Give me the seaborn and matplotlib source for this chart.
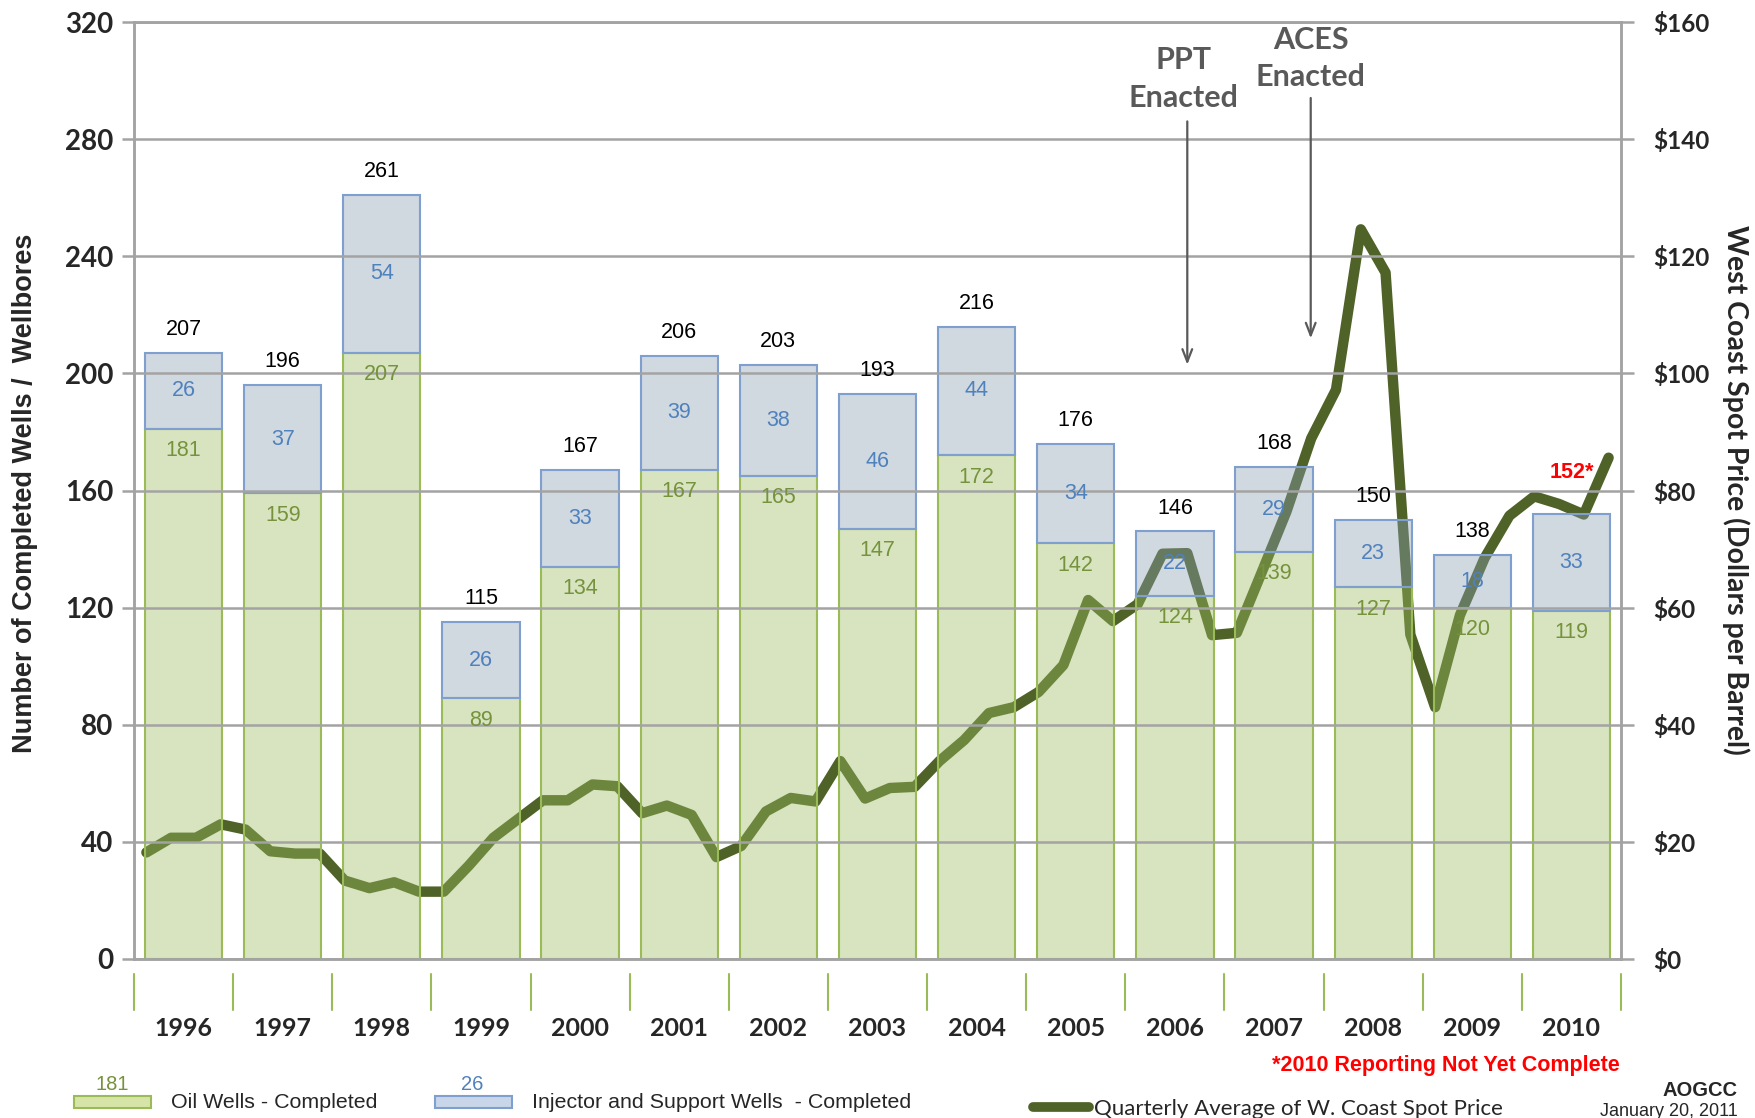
import numpy as np
import pandas as pd
import matplotlib
matplotlib.use("Agg")
import matplotlib.pyplot as plt
import matplotlib.transforms as mtransforms
from matplotlib.patches import Rectangle
from matplotlib.lines import Line2D
from matplotlib.colors import to_rgba
import seaborn as sns

# ---------------- data ----------------
years = [str(y) for y in range(1996, 2011)]
oil_wells = [181, 159, 207, 89, 134, 167, 165, 147, 172, 142, 124, 139, 127, 120, 119]
injector_wells = [26, 37, 54, 26, 33, 39, 38, 46, 44, 34, 22, 29, 23, 18, 33]
total_labels = ["207", "196", "261", "115", "167", "206", "203", "193", "216",
                "176", "146", "168", "150", "138", "152*"]
# quarterly average West Coast spot price, 1996Q1 .. 2010Q4
price_quarterly = [
    18.2, 20.7, 20.7, 23.0,
    22.1, 18.4, 18.0, 18.0,
    13.4, 12.1, 13.1, 11.5,
    11.5, 15.9, 20.7, 23.9,
    27.1, 27.1, 29.8, 29.5,
    24.9, 26.2, 24.6, 17.4,
    19.3, 25.2, 27.5, 26.9,
    33.8, 27.4, 29.2, 29.4,
    33.8, 37.4, 42.0, 43.0,
    45.6, 50.2, 61.3, 57.7,
    60.6, 69.2, 69.3, 55.3,
    55.7, 66.0, 76.4, 88.9,
    97.2, 124.6, 117.2, 55.4,
    43.0, 58.7, 68.5, 75.7,
    79.0, 77.7, 75.9, 85.6,
]
left_ticks = list(range(0, 321, 40))
right_ticks = list(range(0, 161, 20))

# ---------------- style ----------------
sns.set_style("white")
plt.rcParams['font.family'] = ['Liberation Sans', 'DejaVu Sans']
CAL = ['Lato', 'DejaVu Sans']

BG = '#FEFED8'
OIL_FILL = to_rgba('#9CBD60', 0.4)
OIL_EDGE = '#9BBB59'
INJ_FILL = to_rgba('#8B9FB2', 0.4)
INJ_EDGE = '#7F9FCF'
GRID = '#A3A3A3'
LINE = '#4F6228'
GREEN_TXT = '#76923C'
BLUE_TXT = '#4F81BD'
ARROW = '#595959'

df = pd.DataFrame({
    'year': years,
    'oil': oil_wells,
    'injector': injector_wells,
})

fig = plt.figure(figsize=(17.56, 11.18), dpi=100)
ax = fig.add_axes([0.07631, 0.14222, 0.84681, 0.8381])

# price line on a twin axis placed underneath the (semi-transparent) bars
ax2 = ax.twinx()
ax2.set_zorder(ax.get_zorder() - 1)
ax.patch.set_visible(False)
ax2.set_facecolor(BG)
xq = [i - 0.5 + (q + 0.5) / 4 for i in range(len(years)) for q in range(4)]
sns.lineplot(x=xq, y=price_quarterly, ax=ax2, color=LINE, lw=7.5)
ax2.set_ylim(0, 160)
ax2.set_xlim(-0.5, len(years) - 0.5)
ax2.set_yticks(right_ticks)
ax2.set_yticklabels([f'${t}' for t in right_ticks])
ax2.tick_params(axis='y', length=9, width=1.8, color=GRID, pad=14)
for lab in ax2.get_yticklabels():
    lab.set_fontfamily(CAL)
    lab.set_fontweight('bold')
    lab.set_fontsize(17.5)
for s in ax2.spines.values():
    s.set_color(GRID)
    s.set_linewidth(1.8)
ax2.set_ylabel('')

# stacked bars: oil at the bottom, injector stacked on top
n0 = len(ax.patches)
sns.barplot(data=df, x='year', y='oil', color='#9CBD60', edgecolor=OIL_EDGE,
            linewidth=1.5, width=0.78, saturation=1, ax=ax)
for p in ax.patches[n0:]:
    p.set_facecolor(OIL_FILL)
n1 = len(ax.patches)
sns.barplot(data=df, x='year', y='injector', color='#8B9FB2', edgecolor=INJ_EDGE,
            linewidth=1.5, width=0.78, saturation=1, ax=ax)
for p, base in zip(ax.patches[n1:], oil_wells):
    p.set_facecolor(INJ_FILL)
    p.set_y(base)

ax.set_xlim(-0.5, len(years) - 0.5)
ax.set_ylim(0, 320)
ax.set_yticks(left_ticks)
ax.set_xlabel('')
ax.set_ylabel('')
ax.yaxis.grid(True, color=GRID, lw=1.8)
ax.set_axisbelow(False)

for s in ax.spines.values():
    s.set_color(GRID)
    s.set_linewidth(1.8)

ax.set_xticks([])
ax.set_xticks(np.arange(-0.5, len(years) - 0.5 + 0.01, 0.25), minor=True)
ax.tick_params(axis='x', which='minor', length=6, width=1.2, color=GRID, direction='out')
ax.tick_params(axis='y', length=9, width=1.8, color=GRID, pad=6)
for lab in ax.get_yticklabels():
    lab.set_fontfamily(CAL)
    lab.set_fontweight('bold')
    lab.set_fontsize(20)

# bar value labels
for i, (o, inj, tl) in enumerate(zip(oil_wells, injector_wells, total_labels)):
    tot = o + inj
    ax.text(i, o - 7.5, str(o), ha='center', va='center', color=GREEN_TXT, fontsize=15.5)
    ax.text(i, o + inj / 2, str(inj), ha='center', va='center', color=BLUE_TXT, fontsize=15.5)
    if tl.endswith('*'):
        ax.text(i, tot + 14, tl, ha='center', va='center', color='#FF0000',
                fontsize=15.5, fontweight='bold')
    else:
        ax.text(i, tot + 8, tl, ha='center', va='center', color='black', fontsize=15.5)

# year separators and labels below the axis
trans = mtransforms.blended_transform_factory(ax.transData, ax.transAxes)
for b in np.arange(-0.5, len(years), 1.0):
    ax.plot([b, b], [-0.016, -0.054], transform=trans, clip_on=False,
            color='#9BBB59', lw=1.5)
for i, y in enumerate(years):
    ax.text(i, -0.074, y, transform=trans, ha='center', va='center',
            fontfamily=CAL, fontweight='bold', fontsize=18)

# annotations
ax.annotate('', xy=(10.125, 202), xytext=(10.125, 287),
            arrowprops=dict(arrowstyle='->,head_length=0.9,head_width=0.35',
                            color=ARROW, lw=1.6))
ax.annotate('', xy=(11.37, 211), xytext=(11.37, 295),
            arrowprops=dict(arrowstyle='->,head_length=0.9,head_width=0.35',
                            color=ARROW, lw=1.6))
ax.text(10.09, 300.5, 'PPT\nEnacted', ha='center', va='center', color=ARROW,
        fontfamily=CAL, fontweight='bold', fontsize=22, linespacing=1.45)
ax.text(11.37, 307.5, 'ACES\nEnacted', ha='center', va='center', color=ARROW,
        fontfamily=CAL, fontweight='bold', fontsize=22, linespacing=1.4)

# axis titles
fig.text(0.0142, 0.559, 'Number of Completed Wells /  Wellbores', rotation=90,
         ha='center', va='center', fontweight='bold', fontsize=19.5)
fig.text(0.9885, 0.5617, 'West Coast Spot Price (Dollars per Barrel)', rotation=270,
         ha='center', va='center', fontfamily=CAL, fontweight='bold', fontsize=20.5)

# bottom notes and legend
W, H = 1756.0, 1118.0
fig.text(1620 / W, 1 - 1065 / H, '*2010 Reporting Not Yet Complete', ha='right', va='center',
         color='#FF0000', fontweight='bold', fontsize=15.5)

fig.add_artist(Rectangle((74 / W, 1 - 1108 / H), 77 / W, 12 / H, transform=fig.transFigure,
                         facecolor='#D7E4A8', edgecolor='#9BBB59', lw=1.5))
fig.text(112 / W, 1 - 1085 / H, '181', ha='center', va='center', color=GREEN_TXT, fontsize=14.5)
fig.text(171 / W, 1 - 1102 / H, 'Oil Wells - Completed', ha='left', va='center', fontsize=15.4)

fig.add_artist(Rectangle((435 / W, 1 - 1108 / H), 77 / W, 12 / H, transform=fig.transFigure,
                         facecolor='#C9D6EA', edgecolor=INJ_EDGE, lw=1.5))
fig.text(472 / W, 1 - 1085 / H, '26', ha='center', va='center', color=BLUE_TXT, fontsize=14.5)
fig.text(532 / W, 1 - 1102 / H, 'Injector and Support Wells  - Completed', ha='left',
         va='center', fontsize=15.4)

fig.add_artist(Line2D([1033 / W, 1089 / W], [1 - 1107 / H, 1 - 1107 / H],
                      transform=fig.transFigure, color=LINE, lw=7))
fig.text(1094 / W, 1 - 1109 / H, 'Quarterly Average of W. Coast Spot Price', ha='left',
         va='center', fontfamily=CAL, fontsize=16)

fig.text(1738 / W, 1 - 1090 / H, 'AOGCC', ha='right', va='center', fontweight='bold', fontsize=14.5)
fig.text(1738 / W, 1 - 1111 / H, 'January 20, 2011', ha='right', va='center', fontsize=13)

fig.savefig('out.png', dpi=100, facecolor='white')
